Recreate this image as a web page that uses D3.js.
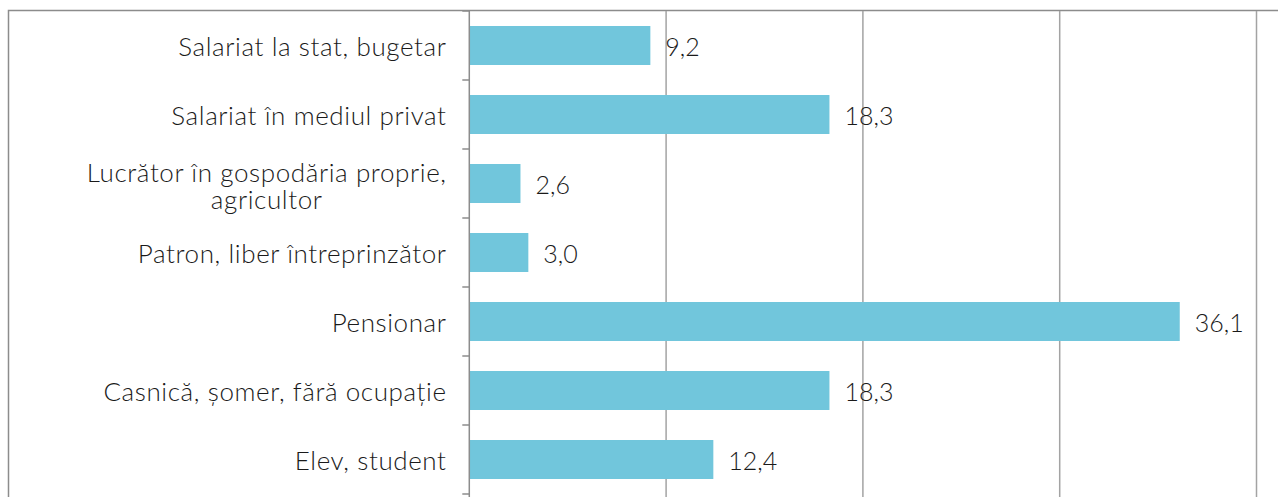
<!DOCTYPE html>
<html>
<head>
<meta charset="utf-8">
<script src="https://cdn.jsdelivr.net/npm/d3@7"></script>
<style>
  html, body { margin: 0; padding: 0; background: #fff; }
  svg { display: block; }
  text { font-family: "Lato", "DejaVu Sans", sans-serif; font-weight: 300; fill: #1a1a1a; }
</style>
</head>
<body>
<svg id="chart" width="1278" height="497"></svg>
<script>
// Occupational status of respondents (%)
const categories = [
  ["Salariat la stat, bugetar"],
  ["Salariat în mediul privat"],
  ["Lucrător în gospodăria proprie,", "agricultor"],
  ["Patron, liber întreprinzător"],
  ["Pensionar"],
  ["Casnică, șomer, fără ocupație"],
  ["Elev, student"]
];
const values = [9.2, 18.3, 2.6, 3.0, 36.1, 18.3, 12.4];
const valueLabels = ["9,2", "18,3", "2,6", "3,0", "36,1", "18,3", "12,4"];
const gridTicks = [10, 20, 30, 40];

const W = 1278, H = 497;
const plot = { left: 469.3, right: 1256.5, top: 11, bottom: 494 };
const labelSize = 26;
const valueSize = 25;

const svg = d3.select("#chart");
const keys = categories.map((c, i) => i);

const x = d3.scaleLinear().domain([0, 40]).range([plot.left, plot.right]);
const y = d3.scaleBand().domain(keys)
  .range([plot.top, plot.bottom])
  .paddingInner(0.435).paddingOuter(0.2175);

// outer frame (open on the right and bottom)
svg.append("path")
  .attr("d", `M8.5,${H} V10.5 H${W}`)
  .attr("fill", "none").attr("stroke", "#8c8c8c").attr("stroke-width", 1.5);

// vertical gridlines
svg.append("g").selectAll("line").data(gridTicks).join("line")
  .attr("x1", d => x(d)).attr("x2", d => x(d))
  .attr("y1", plot.top).attr("y2", H)
  .attr("stroke", "#a3a3a3").attr("stroke-width", 1.5);

// bars
svg.append("g").selectAll("rect").data(values).join("rect")
  .attr("x", x(0))
  .attr("y", (d, i) => y(i))
  .attr("width", d => x(d) - x(0))
  .attr("height", y.bandwidth())
  .attr("fill", "#71c6dc");

// category axis with tick marks at band boundaries
const step = y.step();
const boundaries = d3.range(categories.length + 1).map(i => plot.top + i * step);
const axisG = svg.append("g");
axisG.append("line")
  .attr("x1", x(0)).attr("x2", x(0))
  .attr("y1", plot.top).attr("y2", H)
  .attr("stroke", "#8c8c8c").attr("stroke-width", 1.5);
axisG.selectAll("line.tick").data(boundaries).join("line")
  .attr("class", "tick")
  .attr("x1", x(0) - 7).attr("x2", x(0))
  .attr("y1", d => d).attr("y2", d => d)
  .attr("stroke", "#8c8c8c").attr("stroke-width", 1.5);

// category labels (multi-line labels centred on each other, block right-aligned)
const lineH = 27;
const labelRight = 446;
const spacing = 0.6;
categories.forEach((lines, i) => {
  const cy = y(i) + y.bandwidth() / 2 + (lines.length > 1 ? 2 : 0);
  const t = svg.append("text")
    .attr("font-size", labelSize)
    .attr("letter-spacing", spacing)
    .attr("text-anchor", "middle")
    .attr("dominant-baseline", "central");
  lines.forEach((ln, j) => {
    t.append("tspan")
      .attr("x", 0)
      .attr("y", cy + (j - (lines.length - 1) / 2) * lineH)
      .text(ln);
  });
  const bb = t.node().getBBox();
  t.attr("transform", `translate(${labelRight + spacing - bb.width / 2},0)`);
});

// value labels
svg.append("g").selectAll("text").data(values).join("text")
  .attr("x", d => x(d) + 15)
  .attr("y", (d, i) => y(i) + y.bandwidth() / 2)
  .attr("dominant-baseline", "central")
  .attr("font-size", valueSize)
  .text((d, i) => valueLabels[i]);
</script>
</body>
</html>
